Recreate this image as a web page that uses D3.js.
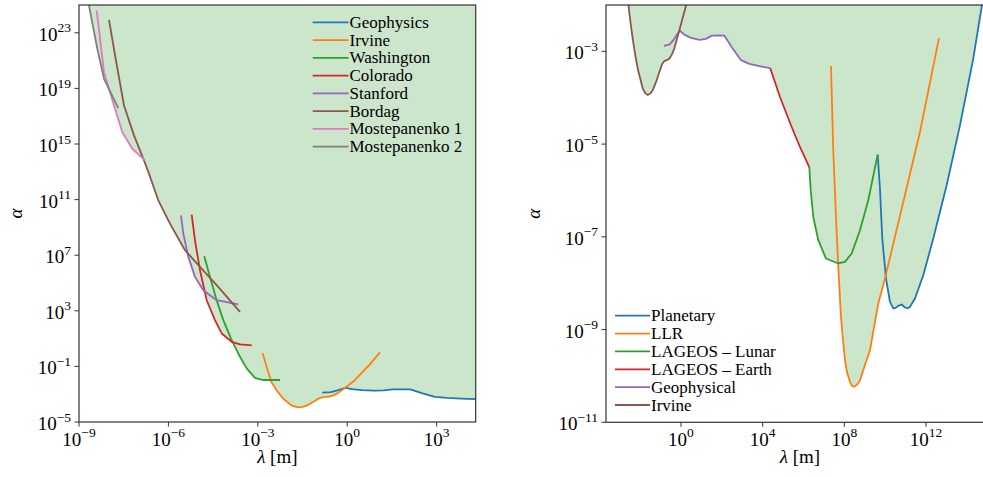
<!DOCTYPE html>
<html><head><meta charset="utf-8">
<script src="https://cdn.jsdelivr.net/npm/d3@7"></script>
<style>
body{margin:0;background:#fff}
svg{display:block}
text{font-family:"Liberation Serif","DejaVu Serif",serif;fill:#000}
</style>
</head><body>
<svg id="c" width="983" height="477"></svg>
<script>
// All values are [log10(lambda / m), log10(alpha)]
// ---- shared curves ----
const irvine = [[-2.838,-0.06],[-2.704,-1.03],[-2.55,-2.10],[-2.45,-2.45],[-2.365,-2.73],[-2.24,-3.08],[-2.12,-3.37],[-1.876,-3.80],[-1.75,-3.90],[-1.63,-3.94],[-1.50,-3.91],[-1.386,-3.84],[-1.23,-3.67],[-1.063,-3.45],[-0.93,-3.28],[-0.818,-3.21],[-0.70,-3.19],[-0.573,-3.16],[-0.45,-3.07],[-0.328,-2.94],[-0.083,-2.55],[0.245,-2.01],[0.5,-1.43],[0.762,-0.85],[1.097,0.01]];
const geophysical = [[-0.84,-2.88],[-0.55,-2.85],[-0.33,-2.73],[-0.06,-2.55],[0.16,-2.64],[0.49,-2.71],[0.9,-2.75],[1.22,-2.73],[1.52,-2.66],[1.88,-2.655],[2.12,-2.66],[2.53,-2.94],[2.94,-3.19],[3.35,-3.27],[3.83,-3.32],[4.37,-3.36]];
// ---- short range (left panel) ----
const washington = [[-4.797,6.93],[-4.606,5.44],[-4.381,3.76],[-4.159,2.33],[-3.878,0.89],[-3.599,-0.31],[-3.374,-1.14],[-3.096,-1.82],[-2.818,-1.98],[-2.257,-1.98]];
const colorado = [[-5.219,9.92],[-5.109,8.07],[-4.941,5.92],[-4.716,3.76],[-4.438,2.33],[-4.213,1.37],[-3.878,0.77],[-3.599,0.58],[-3.207,0.51]];
const stanford = [[-5.578,9.87],[-5.501,8.56],[-5.333,6.88],[-5.109,5.44],[-4.830,4.48],[-4.381,3.76],[-3.656,3.46]];
const bordag = [[-7.994,23.93],[-7.769,21.13],[-7.490,17.77],[-7.155,15.62],[-6.820,13.82],[-6.652,12.87],[-6.340,10.95],[-5.947,9.27],[-5.444,7.36],[-4.941,6.16],[-4.381,4.84],[-3.599,2.92]];
const mostepanenko1 = [[-8.406,24.6],[-8.161,20.17],[-7.826,17.77],[-7.547,15.86],[-7.212,14.66],[-6.786,13.82]];
const mostepanenko2 = [[-8.78,26.0],[-8.665,24.96],[-8.386,21.85],[-8.161,19.69],[-7.682,17.58]];
// ---- long range (right panel) ----
const lageosEarth = [[4.37,-3.36],[4.848,-3.985],[5.421,-4.631],[5.828,-5.062],[6.283,-5.494]];
const lageosLunar = [[6.283,-5.494],[6.352,-5.996],[6.479,-6.571],[6.724,-7.073],[7.101,-7.468],[7.703,-7.575],[8.031,-7.541],[8.359,-7.360],[8.766,-6.858],[9.172,-6.211],[9.633,-5.226]];
const planetary = [[9.633,-5.226],[9.745,-5.959],[9.858,-7.037],[10.039,-7.899],[10.235,-8.403],[10.397,-8.545],[10.52,-8.53],[10.642,-8.489],[10.808,-8.459],[10.970,-8.524],[11.1,-8.54],[11.214,-8.511],[11.459,-8.330],[11.866,-7.828],[12.356,-7.037],[13.012,-5.888],[13.663,-4.595],[14.314,-3.157],[14.74,-2.0]];
const llr = [[7.346,-3.323],[7.458,-5.134],[7.591,-6.571],[7.703,-7.649],[7.835,-8.726],[7.933,-9.23],[8.031,-9.659],[8.13,-9.918],[8.276,-10.127],[8.374,-10.21],[8.472,-10.235],[8.619,-10.19],[8.766,-10.091],[8.962,-9.83],[9.256,-9.444],[9.662,-8.438],[9.990,-7.899],[10.886,-6.248],[11.704,-4.739],[12.635,-2.713]];

// tick exponents
const leftXTicks = [-9,-6,-3,0,3];
const leftYTicks = [-5,-1,3,7,11,15,19,23];
const rightXTicks = [0,4,8,12];
const rightYTicks = [-11,-9,-7,-5,-3];

const leftSeries = [
  {name:"Geophysics", color:"#1f77b4", data:geophysical},
  {name:"Irvine", color:"#ff7f0e", data:irvine},
  {name:"Washington", color:"#2ca02c", data:washington},
  {name:"Colorado", color:"#d62728", data:colorado},
  {name:"Stanford", color:"#9467bd", data:stanford},
  {name:"Bordag", color:"#8c564b", data:bordag},
  {name:"Mostepanenko 1", color:"#e377c2", data:mostepanenko1},
  {name:"Mostepanenko 2", color:"#7f7f7f", data:mostepanenko2}
];
const rightSeries = [
  {name:"Planetary", color:"#1f77b4", data:planetary},
  {name:"LLR", color:"#ff7f0e", data:llr},
  {name:"LAGEOS \u2013 Lunar", color:"#2ca02c", data:lageosLunar},
  {name:"LAGEOS \u2013 Earth", color:"#d62728", data:lageosEarth},
  {name:"Geophysical", color:"#9467bd", data:geophysical},
  {name:"Irvine", color:"#8c564b", data:irvine}
];

const svg = d3.select("#c");
const FILL = "#cce6cc";

function interp(data, x){
  if (x < data[0][0] || x > data[data.length-1][0]) return null;
  for (let i=1;i<data.length;i++){
    if (x <= data[i][0]){
      const a=data[i-1], b=data[i];
      const t = (b[0]===a[0]) ? 0 : (x-a[0])/(b[0]-a[0]);
      return a[1] + t*(b[1]-a[1]);
    }
  }
  return data[data.length-1][1];
}

function envelope(series){
  let xs = [];
  series.forEach(s => s.data.forEach(d => xs.push(d[0])));
  const lo = d3.min(xs), hi = d3.max(xs);
  for (let i=0;i<=2000;i++) xs.push(lo + (hi-lo)*i/2000);
  xs = Array.from(new Set(xs)).sort((a,b)=>a-b);
  return xs.map(x => {
    let m = null;
    series.forEach(s => { const v = interp(s.data, x); if (v!==null && (m===null || v<m)) m = v; });
    return [x, m];
  });
}

function panel(cfg, idx){
  const {box, xdom, ydom, series, xticks, yticks, legend, ylabelX} = cfg;
  const x = d3.scaleLog().domain(xdom.map(e=>10**e)).range([box.x0, box.x1]);
  const y = d3.scaleLog().domain(ydom.map(e=>10**e)).range([box.y1, box.y0]);
  const g = svg.append("g");
  const cid = "clip"+idx;
  svg.append("clipPath").attr("id",cid).append("rect")
    .attr("x",box.x0).attr("y",box.y0).attr("width",box.x1-box.x0).attr("height",box.y1-box.y0);
  const plot = g.append("g").attr("clip-path",`url(#${cid})`);

  const env = envelope(series);
  const area = d3.area()
    .defined(d => d[1]!==null)
    .x(d => x(10**d[0]))
    .y0(box.y0 - 5)
    .y1(d => Math.max(box.y0-5, y(10**d[1])));
  plot.append("path").attr("d", area(env)).attr("fill", FILL).attr("stroke","none");

  const line = d3.line().x(d=>x(10**d[0])).y(d=>y(10**d[1]));
  series.forEach(s => {
    plot.append("path").attr("d", line(s.data)).attr("fill","none")
      .attr("stroke", s.color).attr("stroke-width",1.8).attr("stroke-linejoin","round").attr("stroke-linecap","butt");
  });

  // spines
  g.append("rect").attr("x",box.x0).attr("y",box.y0).attr("width",box.x1-box.x0).attr("height",box.y1-box.y0)
    .attr("fill","none").attr("stroke","#333").attr("stroke-width",1.2);

  // x ticks
  xticks.forEach(e => {
    const px = x(10**e);
    g.append("line").attr("x1",px).attr("x2",px).attr("y1",box.y1).attr("y2",box.y1+4.5).attr("stroke","#333").attr("stroke-width",1);
    const t = g.append("text").attr("x",px).attr("y",box.y1+23.5).attr("text-anchor","middle").style("font-size","19px");
    t.append("tspan").text("10");
    t.append("tspan").attr("dy",-8.5).style("font-size","13.5px").text(String(e).replace("-","\u2212"));
  });
  // y ticks
  yticks.forEach(e => {
    const py = y(10**e);
    g.append("line").attr("x1",box.x0-4.5).attr("x2",box.x0).attr("y1",py).attr("y2",py).attr("stroke","#333").attr("stroke-width",1);
    const t = g.append("text").attr("x",box.x0-8).attr("y",py+8).attr("text-anchor","end").style("font-size","19px");
    t.append("tspan").text("10");
    t.append("tspan").attr("dy",-8.5).style("font-size","13.5px").text(String(e).replace("-","\u2212"));
  });

  // axis labels
  const xl = g.append("text").attr("x",(box.x0+box.x1)/2).attr("y",463).attr("text-anchor","middle").style("font-size","19px");
  xl.append("tspan").style("font-style","italic").text("\u03bb");
  xl.append("tspan").text(" [m]");
  g.append("text").attr("transform",`translate(${ylabelX},${(box.y0+box.y1)/2}) rotate(-90)`)
    .attr("text-anchor","middle").attr("dy","0.35em").style("font-size","19px").style("font-style","italic").text("\u03b1");

  // legend
  series.forEach((s,i) => {
    const ry = legend.y + i*legend.dy;
    g.append("line").attr("x1",legend.x0).attr("x2",legend.x1).attr("y1",ry).attr("y2",ry)
      .attr("stroke",s.color).attr("stroke-width",1.8);
    g.append("text").attr("x",legend.x1+1).attr("y",ry+5.5).style("font-size","17px").text(s.name);
  });
}

panel({
  box:{x0:79, x1:475.7, y0:5, y1:422},
  xdom:[-9, 4.31], ydom:[-5, 25],
  series:leftSeries, xticks:leftXTicks, yticks:leftYTicks,
  legend:{x0:312.7, x1:348.5, y:22.3, dy:17.77},
  ylabelX:15
},0);
panel({
  box:{x0:606, x1:994, y0:5, y1:422.3},
  xdom:[-3.673, 15.33], ydom:[-11, -2],
  series:rightSeries, xticks:rightXTicks, yticks:rightYTicks,
  legend:{x0:615, x1:650, y:315.7, dy:17.86},
  ylabelX:533
},1);
</script>
</body></html>
